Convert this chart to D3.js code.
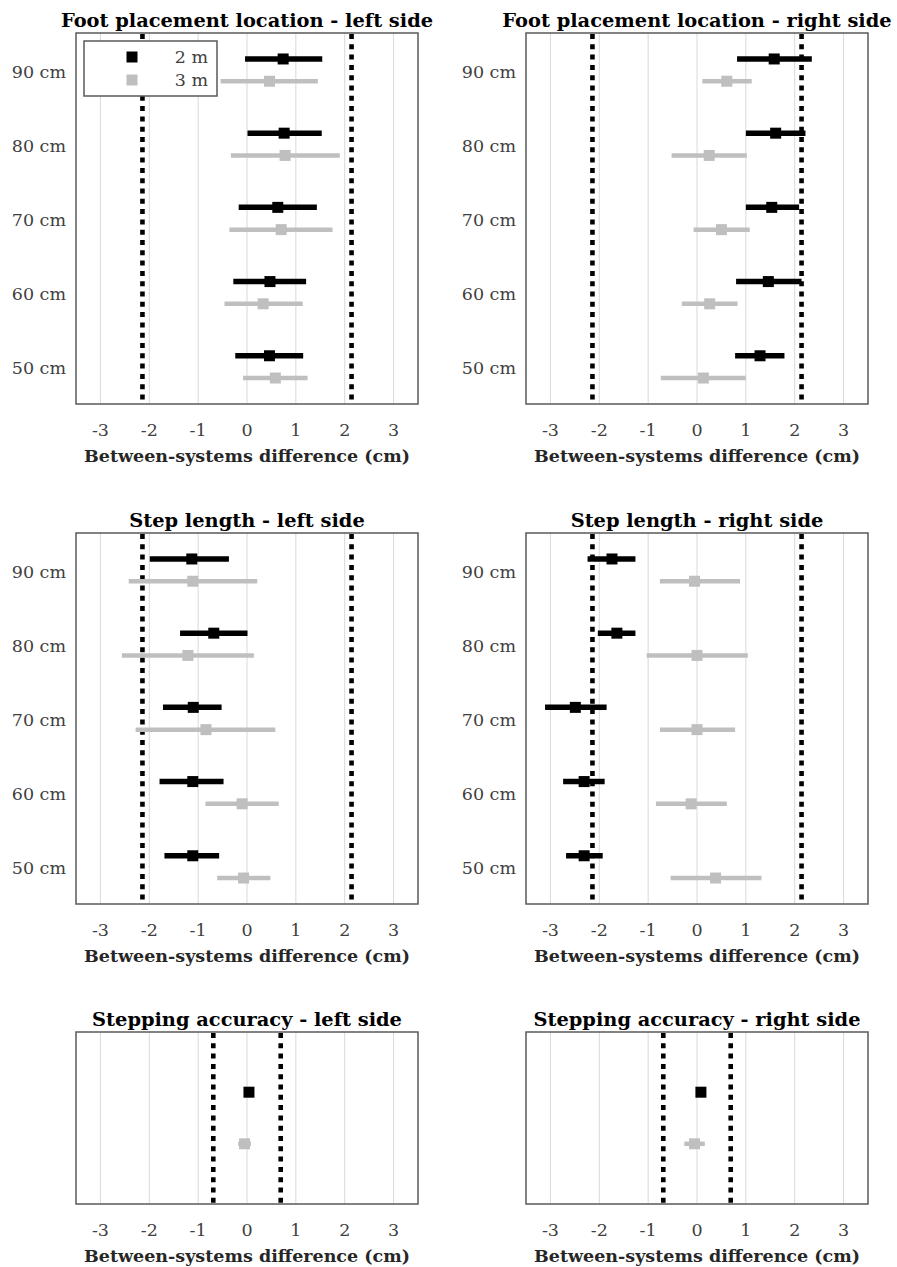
<!DOCTYPE html>
<html>
<head>
<meta charset="utf-8">
<script src="https://cdn.jsdelivr.net/npm/d3@7"></script>
<style>
  body { margin: 0; background: #fff; }
  svg text { font-family: 'DejaVu Serif', serif; }
  .tick-label { fill: #404040; font-size: 17.5px; }
  .panel-title { fill: #000; font-size: 19.4px; font-weight: bold; }
  .axis-title { fill: #262626; font-size: 17.5px; font-weight: bold; }
</style>
</head>
<body>
<div id="chart"></div>
<script>
// Categories (top to bottom) and x ticks
const distances = ['90 cm', '80 cm', '70 cm', '60 cm', '50 cm'];
const xTicks = [-3, -2, -1, 0, 1, 2, 3];
const seriesNames = ['2 m', '3 m'];

// [mean, lower, upper] per distance, in cm
const footLeft2m = [[0.74, -0.04, 1.54], [0.76, 0.01, 1.53], [0.63, -0.17, 1.43], [0.47, -0.28, 1.21], [0.46, -0.24, 1.15]];
const footLeft3m = [[0.46, -0.54, 1.45], [0.78, -0.33, 1.90], [0.70, -0.36, 1.75], [0.33, -0.46, 1.14], [0.58, -0.08, 1.24]];
const footRight2m = [[1.58, 0.82, 2.35], [1.61, 1.00, 2.22], [1.53, 1.00, 2.09], [1.46, 0.80, 2.14], [1.29, 0.78, 1.79]];
const footRight3m = [[0.61, 0.11, 1.12], [0.25, -0.52, 1.02], [0.50, -0.07, 1.08], [0.26, -0.31, 0.83], [0.13, -0.74, 1.00]];
const stepLeft2m = [[-1.13, -1.99, -0.37], [-0.68, -1.37, 0.01], [-1.10, -1.72, -0.52], [-1.11, -1.79, -0.48], [-1.11, -1.69, -0.57]];
const stepLeft3m = [[-1.11, -2.42, 0.21], [-1.21, -2.56, 0.14], [-0.84, -2.28, 0.58], [-0.10, -0.85, 0.65], [-0.07, -0.61, 0.48]];
const stepRight2m = [[-1.74, -2.24, -1.26], [-1.64, -2.03, -1.26], [-2.49, -3.11, -1.85], [-2.31, -2.74, -1.89], [-2.31, -2.68, -1.93]];
const stepRight3m = [[-0.05, -0.76, 0.88], [0.00, -1.03, 1.04], [0.00, -0.76, 0.78], [-0.12, -0.84, 0.61], [0.38, -0.54, 1.32]];
const accLeft2m = [[0.04, 0.00, 0.08]];
const accLeft3m = [[-0.05, -0.18, 0.08]];
const accRight2m = [[0.08, 0.04, 0.12]];
const accRight3m = [[-0.05, -0.26, 0.16]];

// limits of agreement (dotted lines)
const limitsFootStep = [-2.14, 2.14];
const limitsAccuracy = [-0.69, 0.69];

const panels = [
  { title: 'Foot placement location - left side', cats: distances, s2: footLeft2m, s3: footLeft3m, limits: limitsFootStep, col: 0, top: 33, h: 371, legend: true },
  { title: 'Foot placement location - right side', cats: distances, s2: footRight2m, s3: footRight3m, limits: limitsFootStep, col: 1, top: 33, h: 371 },
  { title: 'Step length - left side', cats: distances, s2: stepLeft2m, s3: stepLeft3m, limits: limitsFootStep, col: 0, top: 533, h: 371 },
  { title: 'Step length - right side', cats: distances, s2: stepRight2m, s3: stepRight3m, limits: limitsFootStep, col: 1, top: 533, h: 371 },
  { title: 'Stepping accuracy - left side', cats: [''], s2: accLeft2m, s3: accLeft3m, limits: limitsAccuracy, col: 0, top: 1032, h: 172 },
  { title: 'Stepping accuracy - right side', cats: [''], s2: accRight2m, s3: accRight3m, limits: limitsAccuracy, col: 1, top: 1032, h: 172 },
];

const width = 897, height = 1267;
const colLeft = [76, 526];
const plotW = 342;
const colors = { '2 m': '#000000', '3 m': '#bfbfbf' };

const svg = d3.select('#chart').append('svg')
  .attr('width', width)
  .attr('height', height);

function drawPanel(p) {
  const left = colLeft[p.col];
  const x = d3.scaleLinear().domain([-3.5, 3.5]).range([left, left + plotW]);
  const y = d3.scaleBand().domain(p.cats).range([p.top, p.top + p.h]);
  const off = y.bandwidth() * 0.15;
  const bottom = p.top + p.h;

  const g = svg.append('g').attr('class', 'panel');

  // gridlines
  g.selectAll('line.grid')
    .data(xTicks)
    .join('line')
    .attr('class', 'grid')
    .attr('x1', d => x(d)).attr('x2', d => x(d))
    .attr('y1', p.top).attr('y2', bottom)
    .attr('stroke', '#d9d9d9')
    .attr('stroke-width', 1);

  // limits of agreement
  g.selectAll('line.limit')
    .data(p.limits)
    .join('line')
    .attr('class', 'limit')
    .attr('x1', d => x(d)).attr('x2', d => x(d))
    .attr('y1', p.top + 1).attr('y2', bottom)
    .attr('stroke', '#000')
    .attr('stroke-width', 4.6)
    .attr('stroke-dasharray', '5,5.3');

  // series: error bars + square markers
  const series = [
    { name: '2 m', data: p.s2, dy: -off, bar: 5.5 },
    { name: '3 m', data: p.s3, dy: off, bar: 4.5 },
  ];
  // grey drawn first so black sits on top
  series.slice().reverse().forEach(s => {
    const sg = g.append('g').attr('class', 'series');
    const rows = s.data.map((d, i) => ({ cat: p.cats[i], mean: d[0], lo: d[1], hi: d[2] }));
    sg.selectAll('line.err')
      .data(rows)
      .join('line')
      .attr('class', 'err')
      .attr('x1', d => x(d.lo)).attr('x2', d => x(d.hi))
      .attr('y1', d => y(d.cat) + y.bandwidth() / 2 + s.dy)
      .attr('y2', d => y(d.cat) + y.bandwidth() / 2 + s.dy)
      .attr('stroke', colors[s.name])
      .attr('stroke-width', s.bar);
    sg.selectAll('rect.marker')
      .data(rows)
      .join('rect')
      .attr('class', 'marker')
      .attr('x', d => x(d.mean) - 5.5)
      .attr('y', d => y(d.cat) + y.bandwidth() / 2 + s.dy - 5.5)
      .attr('width', 11).attr('height', 11)
      .attr('fill', colors[s.name]);
  });

  // frame
  g.append('rect')
    .attr('x', left).attr('y', p.top)
    .attr('width', plotW).attr('height', p.h)
    .attr('fill', 'none')
    .attr('stroke', '#595959')
    .attr('stroke-width', 1.5);

  // y labels
  g.selectAll('text.ylab')
    .data(p.cats.filter(c => c))
    .join('text')
    .attr('class', 'tick-label ylab')
    .attr('x', left - 10)
    .attr('y', d => y(d) + y.bandwidth() / 2 + 7.5)
    .attr('text-anchor', 'end')
    .text(d => d);

  // x tick labels
  g.selectAll('text.xlab')
    .data(xTicks)
    .join('text')
    .attr('class', 'tick-label xlab')
    .attr('x', d => x(d))
    .attr('y', bottom + 32)
    .attr('text-anchor', 'middle')
    .text(d => d < 0 ? '-' + Math.abs(d) : d);

  g.append('text')
    .attr('class', 'axis-title')
    .attr('x', left + plotW / 2)
    .attr('y', bottom + 58)
    .attr('text-anchor', 'middle')
    .text('Between-systems difference (cm)');

  g.append('text')
    .attr('class', 'panel-title')
    .attr('x', left + plotW / 2)
    .attr('y', p.top - 6)
    .attr('text-anchor', 'middle')
    .text(p.title);

  if (p.legend) {
    const lg = g.append('g').attr('class', 'legend');
    lg.append('rect')
      .attr('x', 84).attr('y', 41)
      .attr('width', 133).attr('height', 55)
      .attr('fill', '#fff')
      .attr('stroke', '#595959')
      .attr('stroke-width', 1.5);
    seriesNames.forEach((name, i) => {
      const cy = 57 + i * 23;
      lg.append('rect')
        .attr('x', 132 - 5.5).attr('y', cy - 5.5)
        .attr('width', 11).attr('height', 11)
        .attr('fill', colors[name]);
      lg.append('text')
        .attr('class', 'tick-label')
        .attr('x', 208).attr('y', cy + 6)
        .attr('text-anchor', 'end')
        .text(name);
    });
  }
}

panels.forEach(drawPanel);
</script>
</body>
</html>
